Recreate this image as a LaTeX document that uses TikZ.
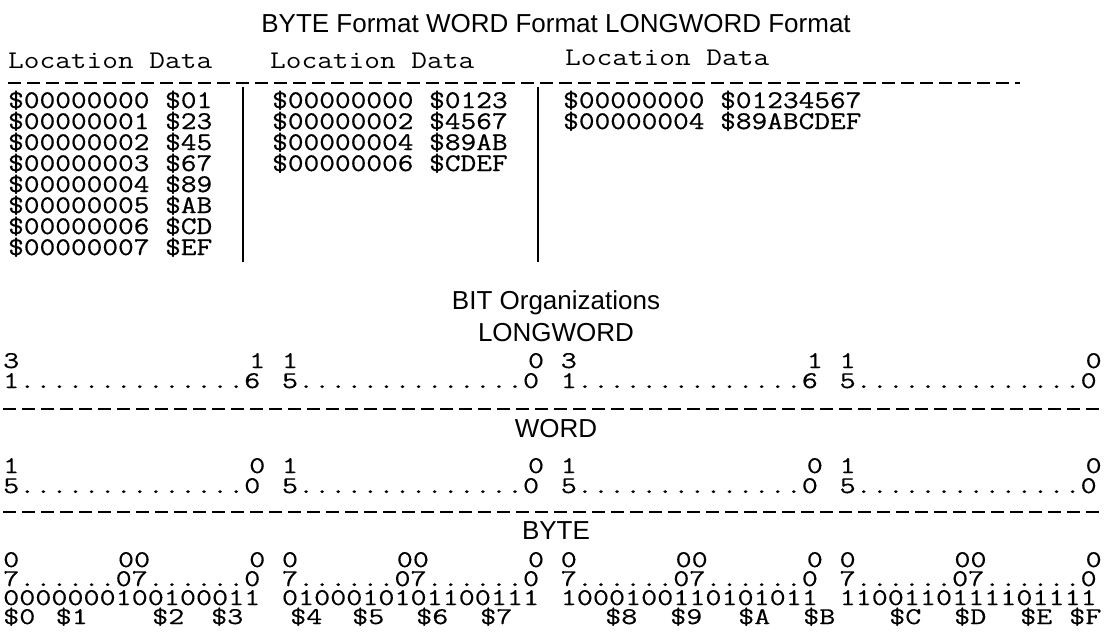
\documentclass[tikz,border=0pt]{standalone}
\usepackage{fontspec}
\setmainfont{Liberation Sans}
% wide, low serif typewriter faces for the listings
\newfontfamily\bitfont[FakeStretch=1.30,FakeBold=0.35]{Latin Modern Mono}
\newfontfamily\tabfont[FakeStretch=1.20,FakeBold=0.6]{Latin Modern Mono}
\newfontfamily\headfont[FakeStretch=1.20]{Latin Modern Mono}
% runs of dots used in the bit-number rows
\newcommand\dotrun{..............}
\newcommand\byterun{7......07......0}
\begin{document}
\begin{tikzpicture}[x=1pt,y=-1pt,
  bits/.style={font=\bitfont\fontsize{24}{24}\selectfont, inner sep=0pt, anchor=base west},
  tab/.style={font=\tabfont\fontsize{25.4}{25.4}\selectfont, inner sep=0pt, anchor=base west},
  head/.style={font=\headfont\fontsize{25.4}{25.4}\selectfont, inner sep=0pt, anchor=base west},
  caption/.style={font=\fontsize{26}{26}\selectfont, inner sep=0pt, anchor=base},
  rule/.style={line width=1.6pt, dash pattern=on 13pt off 6pt},
  bar/.style={line width=1.6pt}]
\useasboundingbox (0,0) rectangle (1107,640);

% ---- memory formats table ----
\node[caption] (title) at (556,32) {BYTE Format WORD Format LONGWORD Format};
\node[head] (hbyte) at (8,68) {Location Data};
\node[head] (hword) at (270,68) {Location Data};
\node[head] (hlong) at (565,65) {Location Data};
\draw[rule] (8,83) -- (1020,83);

\foreach \a/\d [count=\i from 0] in {00000000/01,00000001/23,00000002/45,00000003/67,
                                      00000004/89,00000005/AB,00000006/CD,00000007/EF}
  \node[tab] (byte\i) at (8,108+21*\i) {\$\a\ \$\d};
\foreach \a/\d [count=\i from 0] in {00000000/0123,00000002/4567,00000004/89AB,00000006/CDEF}
  \node[tab] (word\i) at (272,108+21*\i) {\$\a\ \$\d};
\foreach \a/\d [count=\i from 0] in {00000000/01234567,00000004/89ABCDEF}
  \node[tab] (long\i) at (563,108+21*\i) {\$\a\ \$\d};

\draw[bar] (243,87) -- (243,262);
\draw[bar] (538,87) -- (538,262);

% ---- bit organizations ----
\node[caption] (bitorg) at (556,309) {BIT Organizations};

% longword
\node[caption] (lwcap) at (556,341) {LONGWORD};
\foreach \c/\k [count=\i] in {3/0,1/15,1/17,0/32,3/34,1/49,1/51,0/66}
  \node[bits] (lwhi\i) at (3+16.4*\k,368) {\c};
\foreach \a/\b/\k [count=\i] in {1/6/0,5/0/17,1/6/34,5/0/51}
  \node[bits] (lwlo\i) at (3+16.4*\k,388) {\a\dotrun\b};
\draw[rule] (3,409) -- (1102,409);

% word
\node[caption] (wcap) at (556,437) {WORD};
\foreach \c/\k [count=\i] in {1/0,0/15,1/17,0/32,1/34,0/49,1/51,0/66}
  \node[bits] (whi\i) at (3+16.4*\k,473) {\c};
\foreach \k [count=\i] in {0,17,34,51}
  \node[bits] (wlo\i) at (3+16.4*\k,493) {5\dotrun0};
\draw[rule] (3,512) -- (1102,512);

% byte
\node[caption] (bcap) at (556,539) {BYTE};
\foreach \c/\k [count=\i] in {0/0,00/7,0/15,0/17,00/24,0/32,0/34,00/41,0/49,0/51,00/58,0/66}
  \node[bits] (bhi\i) at (3+16.4*\k,567) {\c};
\foreach \k [count=\i] in {0,17,34,51}
  \node[bits] (blo\i) at (3+16.4*\k,586) {\byterun};
\foreach \s/\k [count=\i] in {0000000100100011/0,0100010101100111/17,1000100110101011/34,1100110111101111/51}
  \node[bits] (bval\i) at (3+16.4*\k,605) {\s};
\foreach \n/\x in {0/3,1/55.5,2/152,3/211,4/290,5/352,6/416,7/480,
                   8/605,9/670,A/738,B/803,C/889,D/954,E/1020,F/1069}
  \node[bits] (nib\n) at (\x,624) {\$\n};
\end{tikzpicture}
\end{document}
